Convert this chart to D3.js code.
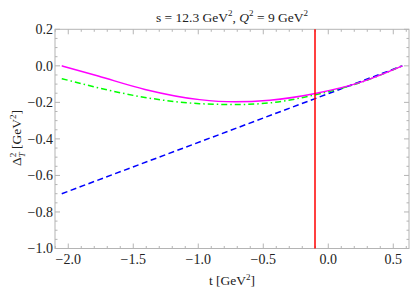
<!DOCTYPE html>
<html>
<head>
<meta charset="utf-8">
<script src="https://cdn.jsdelivr.net/npm/d3@7"></script>
<style>
  body { margin: 0; background: #fff; }
  text { font-family: "Liberation Serif", "DejaVu Serif", serif; fill: #222; }
</style>
</head>
<body>
<div id="chart"></div>
<script>
var width = 415, height = 297;

var tVals = [-2.05, -1.77, -1.41, -0.99, -0.72, -0.45, -0.10, 0.24, 0.57];
var magentaVals = [0.000, -0.056, -0.129, -0.185, -0.197, -0.188, -0.151, -0.092, 0.000];
var greenVals = [-0.070, -0.120, -0.173, -0.207, -0.212, -0.203, -0.158, -0.093, 0.000];
var blueT = [-2.05, 0.57];
var blueVals = [-0.70, 0.00];
var redT = -0.1;

var xTicks = [-2.0, -1.5, -1.0, -0.5, 0.0, 0.5];
var yTicks = [-1.0, -0.8, -0.6, -0.4, -0.2, 0.0, 0.2];

var x = d3.scaleLinear().domain([-2.102, 0.621]).range([55, 409]);
var y = d3.scaleLinear().domain([-1.0, 0.2]).range([248.5, 29.3]);

var svg = d3.select("#chart").append("svg")
    .attr("width", width)
    .attr("height", height);

var fmt = d => d3.format(".1f")(d).replace("-", "\u2212");

// minor ticks
var xMinor = d3.range(-2.1, 0.62, 0.1).filter(v => Math.abs(v * 2 - Math.round(v * 2)) > 0.01);
var yMinor = d3.range(-1.0, 0.2001, 0.05).filter(v => Math.abs(v * 5 - Math.round(v * 5)) > 0.01);

var frame = svg.append("g").attr("stroke", "#b4b4b4").attr("stroke-width", 1);

frame.append("rect")
    .attr("x", x.range()[0]).attr("y", y.range()[1])
    .attr("width", x.range()[1] - x.range()[0])
    .attr("height", y.range()[0] - y.range()[1])
    .attr("fill", "none");

function vTicks(vals, len) {
  vals.forEach(v => {
    frame.append("line").attr("x1", x(v)).attr("x2", x(v))
      .attr("y1", y.range()[0]).attr("y2", y.range()[0] - len);
    frame.append("line").attr("x1", x(v)).attr("x2", x(v))
      .attr("y1", y.range()[1]).attr("y2", y.range()[1] + len);
  });
}
function hTicks(vals, len) {
  vals.forEach(v => {
    frame.append("line").attr("y1", y(v)).attr("y2", y(v))
      .attr("x1", x.range()[0]).attr("x2", x.range()[0] + len);
    frame.append("line").attr("y1", y(v)).attr("y2", y(v))
      .attr("x1", x.range()[1]).attr("x2", x.range()[1] - len);
  });
}
vTicks(xTicks, 5);
vTicks(xMinor, 2.5);
hTicks(yTicks, 5);
hTicks(yMinor, 2.5);

// tick labels
svg.append("g").selectAll("text")
  .data(xTicks)
  .join("text")
  .attr("x", d => x(d))
  .attr("y", 264)
  .attr("text-anchor", "middle")
  .attr("font-size", 14)
  .text(fmt);

svg.append("g").selectAll("text")
  .data(yTicks)
  .join("text")
  .attr("x", 53)
  .attr("y", d => y(d) + 4.8)
  .attr("text-anchor", "end")
  .attr("font-size", 14)
  .text(fmt);

// curves
var line = d3.line().x(d => x(d[0])).y(d => y(d[1])).curve(d3.curveMonotoneX);

svg.append("path")
  .datum(d3.zip(blueT, blueVals))
  .attr("d", line)
  .attr("fill", "none")
  .attr("stroke", "#0000ff")
  .attr("stroke-width", 1.5)
  .attr("stroke-dasharray", "6,3.5");

svg.append("path")
  .datum(d3.zip(tVals, greenVals))
  .attr("d", line)
  .attr("fill", "none")
  .attr("stroke", "#00ff00")
  .attr("stroke-width", 1.5)
  .attr("stroke-dasharray", "6,3,1.5,3");

svg.append("path")
  .datum(d3.zip(tVals, magentaVals))
  .attr("d", line)
  .attr("fill", "none")
  .attr("stroke", "#ff00ff")
  .attr("stroke-width", 1.5);

var rx = Math.round(x(redT));
svg.append("line")
  .attr("x1", rx).attr("x2", rx)
  .attr("y1", y.range()[0]).attr("y2", y.range()[1])
  .attr("stroke", "#ff0000")
  .attr("stroke-width", 1.5);

// title
var title = svg.append("text")
  .attr("x", 232).attr("y", 21.5)
  .attr("text-anchor", "middle")
  .attr("font-size", 13.5);
title.append("tspan").text("s = 12.3 GeV");
title.append("tspan").attr("font-size", 9).attr("dy", -5.5).text("2");
title.append("tspan").attr("dy", 5.5).text(", ");
title.append("tspan").attr("font-style", "italic").text("Q");
title.append("tspan").attr("font-size", 9).attr("dy", -5.5).text("2");
title.append("tspan").attr("dy", 5.5).text(" = 9 GeV");
title.append("tspan").attr("font-size", 9).attr("dy", -5.5).text("2");

// x label
var xl = svg.append("text")
  .attr("x", 232).attr("y", 285)
  .attr("text-anchor", "middle")
  .attr("font-size", 13.5);
xl.append("tspan").text("t [GeV");
xl.append("tspan").attr("font-size", 9).attr("dy", -5.5).text("2");
xl.append("tspan").attr("dy", 5.5).text("]");

// y label
var yl = svg.append("text")
  .attr("transform", "translate(21,138) rotate(-90)")
  .attr("text-anchor", "middle")
  .attr("font-size", 13.5);
yl.append("tspan").text("\u0394");
yl.append("tspan").attr("font-size", 9).attr("dy", -5.5).text("2");
yl.append("tspan").attr("font-size", 9).attr("font-style", "italic").attr("dy", 9).attr("dx", -4.5).text("T");
yl.append("tspan").attr("dy", -3.5).text(" [GeV");
yl.append("tspan").attr("font-size", 9).attr("dy", -5.5).text("2");
yl.append("tspan").attr("dy", 5.5).text("]");
</script>
</body>
</html>
